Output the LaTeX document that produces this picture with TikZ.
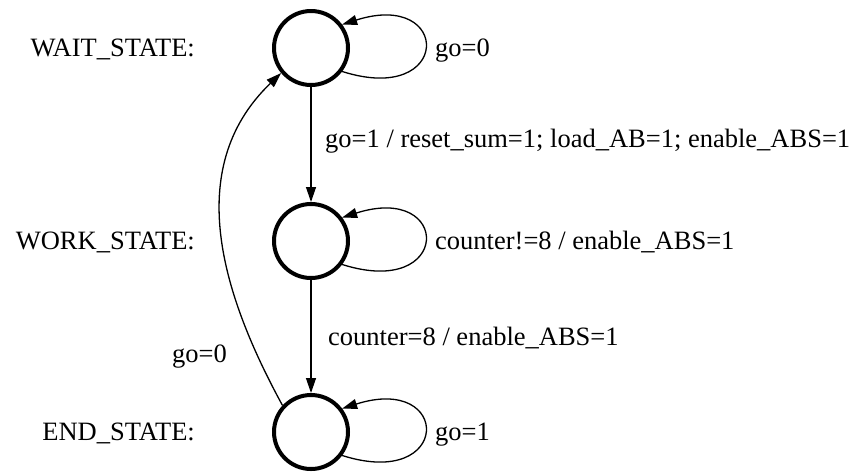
\documentclass[tikz,border=0pt]{standalone}
\usepackage{fontspec}
\setmainfont{Liberation Serif}
\usetikzlibrary{arrows.meta}

\tikzset{
	fsmstate/.style={circle, draw=black, line width=4pt, minimum size=74pt, inner sep=0pt},
	fsmtext/.style={inner sep=0pt, font=\fontsize{26.5}{31}\selectfont},
	fsmedge/.style={line width=1.3pt, -{Triangle[length=15pt, width=10pt]}}
}

\begin{document}
\begin{tikzpicture}[x=1pt, y=-1pt]

\useasboundingbox (0, 0) rectangle (858, 475);

% states
\node[fsmstate] (wait) at (311, 48) {};
\node[fsmstate] (work) at (311, 241) {};
\node[fsmstate] (end) at (311, 432) {};

% state names
\node[fsmtext, anchor=base east] (waitname) at (195, 56) {WAIT\_STATE:};
\node[fsmtext, anchor=base east] (workname) at (195, 249) {WORK\_STATE:};
\node[fsmtext, anchor=base east] (endname) at (195, 440) {END\_STATE:};

% transitions
\draw[fsmedge] (wait) -- (work);
\draw[fsmedge] (work) -- (end);
\draw[fsmedge] (end.137) .. controls (225, 300) and (180, 170) .. (wait.-140);

\draw[fsmedge] (wait.-37) .. controls +(110pt, -35pt) and +(110pt, 35pt) .. (wait.37);
\draw[fsmedge] (work.-37) .. controls +(110pt, -35pt) and +(110pt, 35pt) .. (work.37);
\draw[fsmedge] (end.-37) .. controls +(110pt, -35pt) and +(110pt, 35pt) .. (end.37);

% conditions
\node[fsmtext, anchor=base west] (waitloop) at (435, 56) {go=0};
\node[fsmtext, anchor=base west] (workloop) at (435, 249) {counter!=8 / enable\_ABS=1};
\node[fsmtext, anchor=base west] (endloop) at (435, 440) {go=1};
\node[fsmtext, anchor=base west] (gowork) at (325, 147) {go=1 / reset\_sum=1; load\_AB=1; enable\_ABS=1};
\node[fsmtext, anchor=base west] (goend) at (328, 345) {counter=8 / enable\_ABS=1};
\node[fsmtext, anchor=base east] (gowait) at (227, 362) {go=0};

\end{tikzpicture}
\end{document}
